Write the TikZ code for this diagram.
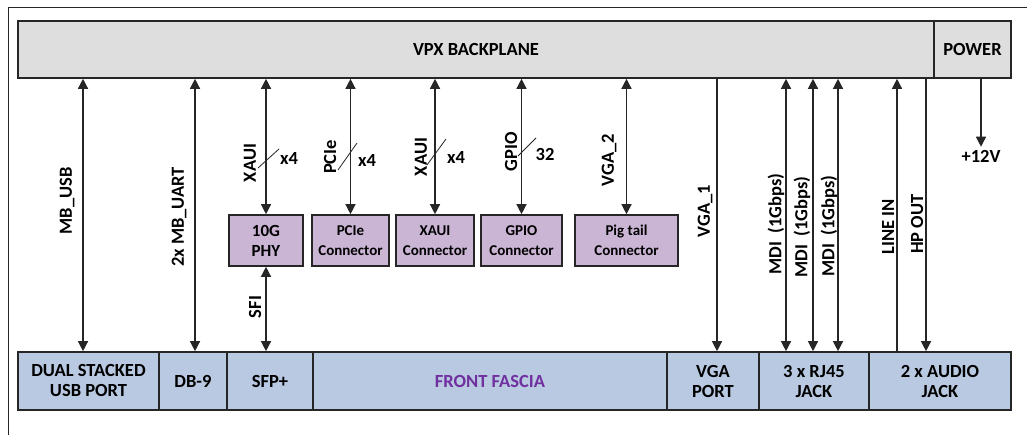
\documentclass[tikz,border=0pt]{standalone}
\usepackage{fontspec}
\setmainfont{Carlito}
\usepackage{tikz}
\usetikzlibrary{positioning,arrows.meta}
\definecolor{bpgray}{HTML}{DEDEDE}
\definecolor{fpblue}{HTML}{B8C9E1}
\definecolor{cnpurple}{HTML}{CBB5D5}
\definecolor{fptext}{HTML}{7030A0}
\definecolor{edgegray}{HTML}{262626}
\tikzset{
  blk/.style={draw=edgegray, line width=1.6pt, inner sep=0pt, align=center,
              font=\bfseries\fontsize{18.5}{20}\selectfont},
  bplane/.style={blk, fill=bpgray, minimum height=57pt},
  fport/.style={blk, fill=fpblue, minimum height=58pt},
  conn/.style={blk, fill=cnpurple, minimum height=51pt,
               font=\bfseries\fontsize{15}{19.5}\selectfont},
  sig/.style={inner sep=0pt, font=\bfseries\fontsize{18.5}{20}\selectfont},
  bus/.style={draw=edgegray, line width=1.3pt},
  tick/.style={draw=edgegray, line width=0.8pt},
  >={Triangle[length=10pt,width=10pt]}
}

\begin{document}
\begin{tikzpicture}[x=1pt,y=-1pt]
         \useasboundingbox (0,0) rectangle (1027,435);
         \draw [edgegray, line width=1pt] (1027,8) -- (8,8) -- (8,435);
         % backplane and power
         \node [bplane, minimum width=916pt] (BP)  at (476,49.5) {VPX BACKPLANE};
         \node [bplane, minimum width=77pt]  (PWR) at (972.5,49.5) {POWER};
         % front fascia row
         \node [fport, minimum width=141pt] (USB) at (88.5,381) {DUAL STACKED\\USB PORT};
         \node [fport, minimum width=68pt]  (DB9) at (193,381) {DB-9};
         \node [fport, minimum width=86pt]  (SFP) at (270,381) {SFP+};
         \node [fport, minimum width=354pt, text=fptext] (FF) at (490,381) {FRONT FASCIA};
         \node [fport, minimum width=92pt]  (VGA) at (713,381) {VGA\\PORT};
         \node [fport, minimum width=110pt] (RJ)  at (814,381) {3 x RJ45\\JACK};
         \node [fport, minimum width=142pt] (AUD) at (940,381) {2 x AUDIO\\JACK};
         % connectors on the board
         \node [conn, minimum width=74pt, font=\bfseries\fontsize{17}{20}\selectfont] (PHY) at (266,240.5) {10G\\PHY};
         \node [conn, minimum width=77pt]  (PCI) at (350.5,240.5) {PCIe\\Connector};
         \node [conn, minimum width=78pt]  (XAU) at (435,240.5) {XAUI\\Connector};
         \node [conn, minimum width=81pt]  (GPI) at (521.5,240.5) {GPIO\\Connector};
         \node [conn, minimum width=103pt] (PIG) at (626.5,240.5) {Pig tail\\Connector};
         % signal labels
         \node [sig, rotate=90] (LUSB)  at (67,201)  {MB\_USB};
         \node [sig, rotate=90] (LUART) at (179,217) {2x MB\_UART};
         \node [sig, rotate=90] (LXA1)  at (250,163) {XAUI};
         \node [sig]            (WXA1)  at (289,159) {x4};
         \node [sig, rotate=90] (LPCI)  at (330,157) {PCIe};
         \node [sig]            (WPCI)  at (367,160) {x4};
         \node [sig, rotate=90] (LXA2)  at (421,157) {XAUI};
         \node [sig]            (WXA2)  at (456,157) {x4};
         \node [sig, rotate=90] (LGPI)  at (511,152) {GPIO};
         \node [sig]            (WGPI)  at (545,155) {32};
         \node [sig, rotate=90] (LVG2)  at (609,160) {VGA\_2};
         \node [sig, rotate=90] (LVG1)  at (705,211) {VGA\_1};
         \node [sig, rotate=90] (LMD1)  at (776,224) {MDI\ \ (1Gbps)};
         \node [sig, rotate=90] (LMD2)  at (802,227) {MDI\ \ (1Gbps)};
         \node [sig, rotate=90] (LMD3)  at (829,226) {MDI\ \ (1Gbps)};
         \node [sig, rotate=90] (LLIN)  at (888,227) {LINE IN};
         \node [sig, rotate=90] (LHP)   at (917,224) {HP OUT};
         \node [sig, rotate=90] (LSFI)  at (255,307) {SFI};
         \node [sig, inner sep=3pt] (P12) at (981,156) {+12V};
         % links
         \draw [<->, bus] (BP.south -| 83,0) -- (USB.north -| 83,0);
         \draw [<->, bus] (BP.south -| 195,0) -- (DB9.north -| 195,0);
         \draw [<->, bus] (PHY.north |- BP.south) -- (PHY.north);
         \draw [<->, bus] (PCI.north |- BP.south) -- (PCI.north);
         \draw [<->, bus] (XAU.north |- BP.south) -- (XAU.north);
         \draw [<->, bus] (GPI.north |- BP.south) -- (GPI.north);
         \draw [<->, bus] (PIG.north |- BP.south) -- (PIG.north);
         \draw [<->, bus] (PHY.south) -- (PHY.south |- SFP.north);
         \draw [->, bus] (BP.south -| 717,0) -- (VGA.north -| 717,0);
         \draw [<->, bus] (BP.south -| 786,0) -- (RJ.north -| 786,0);
         \draw [<->, bus] (BP.south -| 813,0) -- (RJ.north -| 813,0);
         \draw [<->, bus] (BP.south -| 838,0) -- (RJ.north -| 838,0);
         \draw [<-, bus] (BP.south -| 897,0) -- (AUD.north -| 897,0);
         \draw [->, bus] (BP.south -| 926,0) -- (AUD.north -| 926,0);
         \draw [->, bus] (PWR.south -| P12.north) -- (P12.north);
         % bus width ticks
         \draw [tick] (258,168) -- (279,149);
         \draw [tick] (338,170) -- (357,143);
         \draw [tick] (427,165) -- (446,139);
         \draw [tick] (518,156) -- (536,138);
\end{tikzpicture}
\end{document}
